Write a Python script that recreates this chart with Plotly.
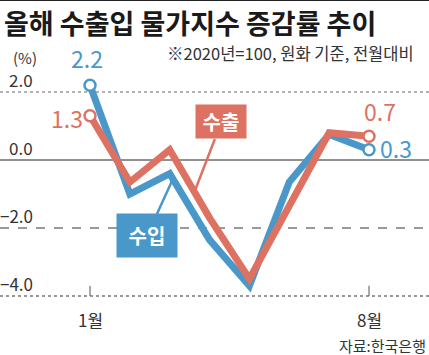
import plotly.graph_objects as go
import numpy as np

months = [1, 2, 3, 4, 5, 6, 7, 8]
export_vals = [1.3, -0.65, 0.3, -1.7, -3.5, -1.3, 0.8, 0.7]
import_vals = [2.2, -1.0, -0.4, -2.35, -3.7, -0.65, 0.75, 0.3]
y_ticks = [2.0, 0.0, -2.0, -4.0]
y_tick_labels = ["2.0", "0.0", "\u22122.0", "\u22124.0"]
x_ticks = [1, 8]
x_tick_labels = ["1월", "8월"]

BLUE = "#4a98c9"
RED = "#de7262"
FONT = "Noto Sans CJK KR"
W, H = 429, 355

fig = go.Figure()

fig.add_trace(go.Scatter(x=months, y=import_vals, mode="lines",
                         line=dict(color=BLUE, width=7), hoverinfo="skip"))
fig.add_trace(go.Scatter(x=months, y=export_vals, mode="lines",
                         line=dict(color=RED, width=7), hoverinfo="skip"))
for vals, col in [(import_vals, BLUE), (export_vals, RED)]:
    fig.add_trace(go.Scatter(x=[months[0], months[-1]], y=[vals[0], vals[-1]], mode="markers",
                             marker=dict(size=11, color="white", line=dict(color=col, width=2.5)),
                             hoverinfo="skip"))

shapes = []
grid_styles = {
    2.0: dict(color="#9a9a9a", width=1.5, dash="dot"),
    0.0: dict(color="#222222", width=1, dash="solid"),
    -2.0: dict(color="#333333", width=1, dash="dash"),
    -4.0: dict(color="#999999", width=2, dash="dot"),
}
for v in y_ticks:
    shapes.append(dict(type="line", xref="paper", yref="y", x0=0, x1=1, y0=v, y1=v,
                       line=grid_styles[v], layer="below"))
for t in x_ticks:
    shapes.append(dict(type="line", xref="x", yref="y", x0=t, x1=t, y0=y_ticks[-1], y1=y_ticks[-1] + 0.3,
                       line=dict(color="#555555", width=1)))
shapes.append(dict(type="line", xref="paper", yref="paper", x0=0, x1=1, y0=1, y1=1,
                   line=dict(color="#222222", width=2)))

ann = []
# title & notes
ann.append(dict(text="<b>올해 수출입 물가지수 증감률 추이</b>", xref="paper", yref="paper",
                x=2 / W, y=1 - 1 / H, xanchor="left", yanchor="top", showarrow=False,
                font=dict(family=FONT, size=27, color="#1a1a1a")))
ann.append(dict(text="(%)", xref="paper", yref="paper", x=11 / W, y=1 - 57 / H,
                xanchor="left", yanchor="middle", showarrow=False,
                font=dict(family=FONT, size=15, color="#333333")))
ann.append(dict(text="※2020년=100, 원화 기준, 전월대비", xref="paper", yref="paper",
                x=416 / W, y=1 - 53 / H, xanchor="right", yanchor="middle", showarrow=False,
                font=dict(family=FONT, size=16.5, color="#333333")))
ann.append(dict(text="자료:한국은행", xref="paper", yref="paper",
                x=428 / W, y=1 - 345 / H, xanchor="right", yanchor="middle", showarrow=False,
                font=dict(family=FONT, size=15, color="#333333")))
# y tick labels
for v, lab in zip(y_ticks, y_tick_labels):
    ann.append(dict(text=lab, xref="paper", yref="y", x=35 / W, y=v, xanchor="right",
                    yanchor="bottom", yshift=-2, showarrow=False,
                    font=dict(family=FONT, size=17, color="#333333")))
# x tick labels
for t, lab in zip(x_ticks, x_tick_labels):
    ann.append(dict(text=lab, xref="x", yref="y", x=t, y=y_ticks[-1], xanchor="center",
                    yanchor="top", yshift=-9, showarrow=False,
                    font=dict(family=FONT, size=17, color="#333333")))
# data labels
ann.append(dict(text=f"{import_vals[0]:.1f}", x=months[0], y=import_vals[0], xanchor="center",
                yanchor="bottom", xshift=-3, yshift=8, showarrow=False,
                font=dict(family=FONT, size=23, color=BLUE)))
ann.append(dict(text=f"{export_vals[0]:.1f}", x=months[0], y=export_vals[0], xanchor="right",
                yanchor="middle", xshift=-5, yshift=-2, showarrow=False,
                font=dict(family=FONT, size=23, color=RED)))
ann.append(dict(text=f"{export_vals[-1]:.1f}", x=months[-1], y=export_vals[-1], xanchor="center",
                yanchor="bottom", xshift=11, yshift=6, showarrow=False,
                font=dict(family=FONT, size=23, color=RED)))
ann.append(dict(text=f"{import_vals[-1]:.1f}", x=months[-1], y=import_vals[-1], xanchor="left",
                yanchor="middle", xshift=9, yshift=2, showarrow=False,
                font=dict(family=FONT, size=23, color=BLUE)))
# callout boxes
ex_x = 3.62
im_x = 3.08
ann.append(dict(text="<b>&nbsp;수출&nbsp;</b>", x=ex_x, y=float(np.interp(ex_x, months, export_vals)),
                ax=27, ay=-70, showarrow=True, arrowhead=0, arrowwidth=2.5, arrowcolor=RED,
                bgcolor=RED, borderpad=2, font=dict(family=FONT, size=20, color="white")))
ann.append(dict(text="<b>&nbsp;수입&nbsp;</b>", x=im_x, y=float(np.interp(im_x, months, import_vals)),
                ax=-26, ay=57, showarrow=True, arrowhead=0, arrowwidth=2.5, arrowcolor=BLUE,
                bgcolor=BLUE, borderpad=7, font=dict(family=FONT, size=20, color="white")))

px_per_month = 279 / 7
x0 = 1 - 90 / px_per_month
x1 = x0 + W / px_per_month
px_per_unit = 34.0
y_top = 160 / px_per_unit
y_bot = y_top - H / px_per_unit

fig.update_layout(
    width=W, height=H, margin=dict(l=0, r=0, t=0, b=0),
    paper_bgcolor="white", plot_bgcolor="white", showlegend=False,
    xaxis=dict(range=[x0, x1], visible=False, fixedrange=True),
    yaxis=dict(range=[y_bot, y_top], visible=False, fixedrange=True),
    shapes=shapes, annotations=ann,
)

fig.write_html("out.html", config={"displayModeBar": False},
               post_script="document.body.style.margin='0';document.body.style.overflow='hidden';")
